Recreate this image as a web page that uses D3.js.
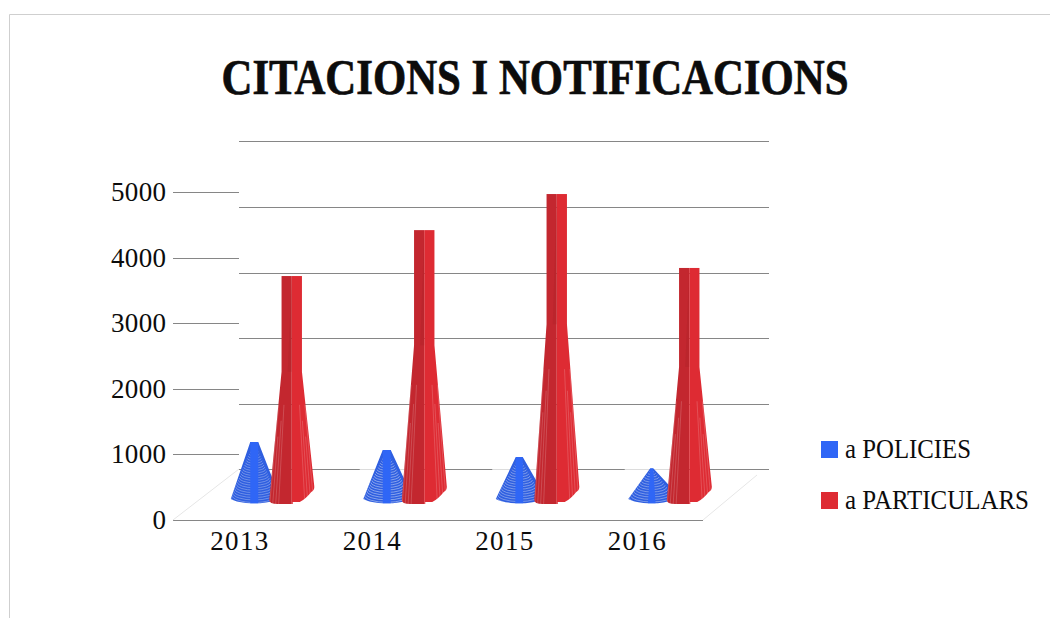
<!DOCTYPE html>
<html><head><meta charset="utf-8">
<script src="https://cdnjs.cloudflare.com/ajax/libs/d3/7.8.5/d3.min.js"></script>
<style>html,body{margin:0;padding:0;background:#fff;overflow:hidden}svg{display:block}text{font-family:"Liberation Serif",serif;fill:#0c0c0c}</style>
</head><body><svg width="1050" height="618"></svg>
<script>
const titleText = "CITACIONS I NOTIFICACIONS";
const years = ["2013","2014","2015","2016"];
const policies = [945, 825, 715, 545];
const particulars = [3475, 4175, 4725, 3600];
const yTicks = [0,1000,2000,3000,4000,5000];
const seriesNames = ["a POLICIES","a PARTICULARS"];
const colors = {blue:"#2f66f6", blueDark:"#2f5fe0", red:"#de2b33", redDark:"#c3272f"};

const svg = d3.select("svg");
const defs = svg.append("defs");
const y = d3.scaleLinear().domain([0,5000]).range([520,192]);
const x = d3.scaleBand().domain(years).range([173,703]);
const depth = {dx:66, dy:51, barDy:16};
const base = y(0) - depth.barDy;
const cx0 = d => x(d)+x.bandwidth()/2;

svg.append("path").attr("d","M9.5,618V14.5H1050").attr("fill","none").attr("stroke","#cfcfcf");

svg.append("text").attr("x",535).attr("y",94).attr("text-anchor","middle")
  .attr("font-weight","bold").attr("font-size",50).attr("stroke","#0c0c0c").attr("stroke-width",.7)
  .attr("textLength",627).attr("lengthAdjust","spacingAndGlyphs").text(titleText);

const grid = svg.append("g").attr("stroke","#868686").attr("stroke-width",1);
yTicks.forEach(t=>{
  const yy = Math.round(y(t))+.5;
  if(t>0) grid.append("line").attr("x1",173).attr("x2",173+depth.dx).attr("y1",yy).attr("y2",yy);
  const by = Math.ceil(y(t)-depth.dy)+.5;
  grid.append("line").attr("x1",173+depth.dx).attr("x2",703+depth.dx).attr("y1",by).attr("y2",by);
});
svg.append("line").attr("x1",173).attr("x2",703).attr("y1",y(0)+.5).attr("y2",y(0)+.5).attr("stroke","#868686");
svg.append("line").attr("x1",173).attr("y1",y(0)).attr("x2",173+depth.dx).attr("y2",y(0)-depth.dy).attr("stroke","#e6e6e6");
svg.append("line").attr("x1",703).attr("y1",y(0)).attr("x2",703+depth.dx-12).attr("y2",y(0)-depth.dy+6).attr("stroke","#e6e6e6");
years.slice(1).forEach(d=>{
  const by = Math.ceil(y(0)-depth.dy)+.5, c = cx0(d);
  svg.append("line").attr("x1",c-12).attr("x2",c+45).attr("y1",by).attr("y2",by).attr("stroke","#dcdcdc");
});

svg.append("g").selectAll("text").data(yTicks).join("text")
  .attr("x",166).attr("y",d=>y(d)+9).attr("text-anchor","end").attr("font-size",27)
  .attr("textLength",d=>d===0?14:55).attr("lengthAdjust","spacing").text(d=>d);
svg.append("g").selectAll("text").data(years).join("text")
  .attr("x",cx0).attr("y",550).attr("text-anchor","middle").attr("font-size",27)
  .attr("textLength",58).attr("lengthAdjust","spacing").text(d=>d);

function redShape(g, cx, top, id){
  const col=10.2, flare=22.5, h=base-top, ny=base-h*.58;
  const d = `M${cx-col},${top}H${cx+col}V${ny}`+
    `L${cx+flare},${base-18}Q${cx+flare+.5},${base-14} ${cx+flare-3},${base-12}`+
    `Q${cx+14},${base-5} ${cx+8},${base-2}H${cx+1}V${base}H${cx-14}`+
    `Q${cx-flare},${base} ${cx-flare},${base-4}L${cx-col},${ny}Z`;
  defs.append("clipPath").attr("id",id).append("path").attr("d",d);
  const c = g.append("g").attr("clip-path",`url(#${id})`);
  c.append("rect").attr("x",cx-flare-2).attr("y",top).attr("width",flare+2).attr("height",h+4).attr("fill",colors.redDark);
  c.append("rect").attr("x",cx).attr("y",top).attr("width",flare+2).attr("height",h+4).attr("fill",colors.red);
  // ribs: rays of the skirt, visible only on its outer, lower part
  d3.range(col+3, flare, 3).forEach((r,k)=>{
    [-1,1].forEach(s=>{
      const t0 = .25+.12*(k%3);
      const xn = cx+s*r*col/flare, xb = cx+s*r;
      c.append("line").attr("x1",xn+(xb-xn)*t0).attr("y1",ny+(base-ny)*t0).attr("x2",xb).attr("y2",base+2)
       .attr("stroke","#fff").attr("stroke-opacity",.2).attr("stroke-width",.9);
    });
  });
  c.append("path").attr("d",`M${cx},${top}L${cx-4},${ny}L${cx},${ny}Z`).attr("fill","#a82229").attr("fill-opacity",.3);
}
function blueShape(g, cx, top, id, topCol, wash){
  const flare=23.5, h=base-top, ll=cx-flare, rr=cx+flare;
  const d = `M${cx-topCol},${top}H${cx+topCol}L${rr},${base-12}`+
    `A${flare},7 0 0 1 ${ll},${base-5}Z`;
  defs.append("clipPath").attr("id",id).append("path").attr("d",d);
  const c = g.append("g").attr("clip-path",`url(#${id})`);
  c.append("rect").attr("x",ll-2).attr("y",top).attr("width",flare*2+4).attr("height",h+6).attr("fill",colors.blueDark);
  // rings of the cone, each a lower half-ellipse growing towards the foot
  d3.range(0.1,1.02,2.4/h).forEach(t=>{
    const rx = flare*t, yy = top+(h-6)*t;
    c.append("path").attr("d",`M${cx-rx},${yy}A${rx},${rx*.32} 0 0 0 ${cx+rx},${yy}`)
     .attr("fill","none").attr("stroke","#fff").attr("stroke-opacity",wash).attr("stroke-width",1);
  });
  c.append("path").attr("d",`M${cx-topCol},${top}H${cx+topCol}L${cx+4},${base+2}H${cx-4}Z`).attr("fill",colors.blue);
}
const marks = svg.append("g");
const blueOffset = 15, redOffset = 52.5;
const topCols = [4,4,3.5,1.5], washes = [.3,.42,.36,.36];
years.forEach((yr,i)=>{
  blueShape(marks, cx0(yr)+blueOffset, y(policies[i])-depth.barDy, "b"+i, topCols[i], washes[i]);
  redShape(marks, cx0(yr)+redOffset, y(particulars[i])-depth.barDy, "r"+i);
});

const lg = svg.append("g");
seriesNames.forEach((n,i)=>{
  const ly = [441,492][i];
  lg.append("rect").attr("x",821).attr("y",ly).attr("width",17).attr("height",17).attr("fill",i?colors.red:colors.blue);
  lg.append("text").attr("x",845).attr("y",ly+17).attr("font-size",27)
    .attr("textLength",i?184:126).attr("lengthAdjust","spacingAndGlyphs").text(n);
});
</script></body></html>
